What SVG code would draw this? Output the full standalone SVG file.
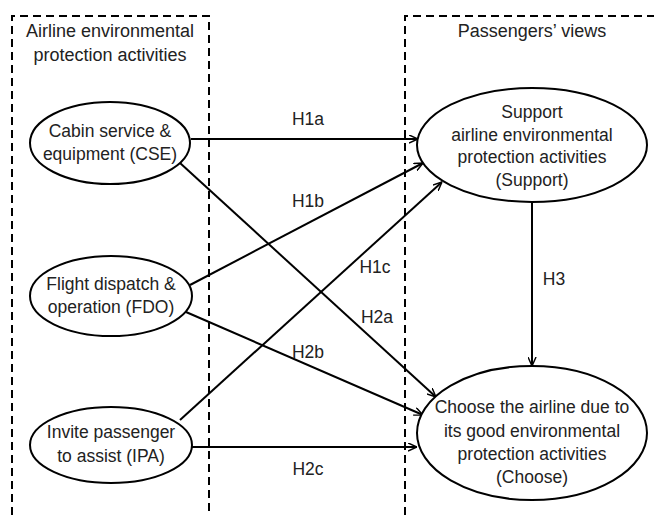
<svg xmlns="http://www.w3.org/2000/svg" width="654" height="515" viewBox="0 0 654 515">
<defs>
<marker id="arr" viewBox="0 0 10 10" refX="10" refY="5" markerWidth="9" markerHeight="9" markerUnits="userSpaceOnUse" orient="auto">
<path d="M0,0.5 L10,5 L0,9.5" fill="none" stroke="#000" stroke-width="1.6"/>
</marker>
</defs>
<style>
.box{fill:none;stroke:#000;stroke-width:2;stroke-dasharray:8,5}
.node{fill:#fff;stroke:#000;stroke-width:2}
.edge{fill:none;stroke:#000;stroke-width:2;marker-end:url(#arr)}
text{font-family:"Liberation Sans",Arial,sans-serif;font-size:17.5px;fill:#222;text-anchor:middle}
.hd{font-size:18px}
</style>
<rect width="654" height="515" fill="#fff"/>
<g id="group-left">
<path class="box" d="M12,515 L12,16 L209,16 L209,515"/>
<text class="hd" x="110" y="37">Airline environmental</text>
<text class="hd" x="110" y="61">protection activities</text>
</g>
<g id="group-right">
<path class="box" d="M405,515 L405,16 L654,16"/>
<text class="hd" x="532" y="37">Passengers’ views</text>
</g>
<g id="connectors">
<line class="edge" x1="191" y1="139" x2="418" y2="139"/>
<line class="edge" x1="190" y1="285" x2="423" y2="163"/>
<line class="edge" x1="180" y1="420" x2="442" y2="182"/>
<line class="edge" x1="180" y1="163" x2="436" y2="397"/>
<line class="edge" x1="186" y1="312" x2="423" y2="415"/>
<line class="edge" x1="192" y1="447" x2="417" y2="447"/>
<line class="edge" x1="532" y1="203" x2="532" y2="366"/>
<text x="308" y="125">H1a</text>
<text x="308" y="207">H1b</text>
<text x="375" y="273">H1c</text>
<text x="377" y="323">H2a</text>
<text x="308" y="358">H2b</text>
<text x="308" y="475">H2c</text>
<text x="554" y="285">H3</text>
</g>
<g id="node-cse">
<ellipse class="node" cx="110" cy="143" rx="80" ry="41"/>
<text x="110" y="137">Cabin service &amp;</text>
<text x="110" y="160">equipment (CSE)</text>
</g>
<g id="node-fdo">
<ellipse class="node" cx="111" cy="296" rx="81" ry="40"/>
<text x="111" y="290">Flight dispatch &amp;</text>
<text x="111" y="313">operation (FDO)</text>
</g>
<g id="node-ipa">
<ellipse class="node" cx="111" cy="445" rx="81" ry="38"/>
<text x="111" y="438">Invite passenger</text>
<text x="111" y="462">to assist (IPA)</text>
</g>
<g id="node-support">
<ellipse class="node" cx="532" cy="145" rx="115" ry="57"/>
<text x="532" y="118">Support</text>
<text x="532" y="141">airline environmental</text>
<text x="532" y="163">protection activities</text>
<text x="532" y="186">(Support)</text>
</g>
<g id="node-choose">
<ellipse class="node" cx="532" cy="433" rx="115" ry="67"/>
<text x="532" y="413">Choose the airline due to</text>
<text x="532" y="437">its good environmental</text>
<text x="532" y="460">protection activities</text>
<text x="532" y="483">(Choose)</text>
</g>
</svg>
